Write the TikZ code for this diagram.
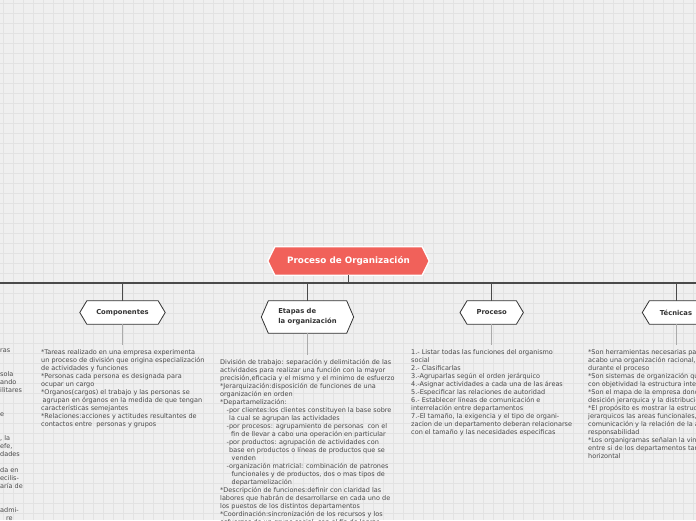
\documentclass[tikz,border=0pt]{standalone}
\usepackage{fontspec}
\setmainfont{DejaVu Sans}
\definecolor{bgc}{HTML}{EFEFEF}
\definecolor{gridc}{HTML}{E2E2E2}
\definecolor{mainc}{HTML}{F1615A}
\definecolor{linec}{HTML}{4A4A4A}
\definecolor{subc}{HTML}{ABABAB}
\definecolor{txtc}{HTML}{4A4A4A}
\definecolor{labc}{HTML}{333333}
\pgfdeclarelayer{paper}
\pgfdeclarelayer{back}
\pgfsetlayers{paper,back,main}
\newcommand\hexof[2]{%
  \path[#2] (#1.west) -- ([xshift=7pt]#1.north west) -- ([xshift=-7pt]#1.north east)
    -- (#1.east) -- ([xshift=-7pt]#1.south east) -- ([xshift=7pt]#1.south west) -- cycle;}
\tikzset{
  mainbox/.style={minimum width=161pt, minimum height=28pt, inner sep=0pt,
    font=\fontsize{8.8}{10}\selectfont\bfseries, text=white},
  subbox/.style={minimum height=23pt, inner sep=0pt, align=left,
    font=\fontsize{6.8}{10}\selectfont\bfseries, text=labc},
  hexmain/.style={fill=mainc, draw=white, line width=1.3pt},
  hexsub/.style={fill=white, draw=labc, line width=0.8pt},
  barline/.style={draw=linec, line width=1.2pt},
  trunkline/.style={draw=linec, line width=1.6pt},
  branchline/.style={draw=linec, line width=0.9pt},
  leafline/.style={draw=subc, line width=1pt, shorten >=4pt},
  bodytext/.style={font=\fontsize{6.5}{8}\selectfont, text=txtc, align=left,
    inner sep=0pt, anchor=north west},
  gridline/.style={draw=gridc, line width=0.7pt}
}
\begin{document}
\begin{tikzpicture}[x=1pt,y=-1pt]
\useasboundingbox (0,0) rectangle (696,520);
\clip (0,0) rectangle (696,520);
\begin{pgfonlayer}{paper}
\fill[bgc] (0,0) rectangle (696,520);
\foreach \i in {0,...,69} {\draw[gridline] (3+10*\i,0) -- (3+10*\i,520);}
\foreach \j in {0,...,51} {\draw[gridline] (0,3+10*\j) -- (696,3+10*\j);}
\end{pgfonlayer}

% central topic
\node[mainbox] (main) at (348.5,261) {Proceso de Organización};

% main topics
\node[subbox, minimum width=85pt] (comp) at (122.5,312.5) {Componentes};
\node[subbox, minimum width=92pt, minimum height=32pt] (etap) at (307.5,317) {Etapas de\\la organización};
\node[subbox, minimum width=63pt] (proc) at (491.7,312.5) {Proceso};
\node[subbox, minimum width=67pt] (tecn) at (676,312.5) {Técnicas};

\begin{pgfonlayer}{back}
  \hexof{main}{hexmain}
  \hexof{comp}{hexsub}
  \hexof{etap}{hexsub}
  \hexof{proc}{hexsub}
  \hexof{tecn}{hexsub}
\end{pgfonlayer}

% connectors
\coordinate (barL) at (0,283);
\coordinate (barR) at (696,283);
\draw[barline] (barL) -- (barR);
\draw[trunkline] (main.south) -- (main.south |- barL);
\foreach \n in {comp,etap,proc,tecn} {\draw[branchline] (\n.north |- barL) -- (\n.north);}

% texts
\node[bodytext] (lefttext) at (0,349) {ras\\ \mbox{}\\ \mbox{}\\sola\\ando\\ilitares\\ \mbox{}\\ \mbox{}\\e\\ \mbox{}\\ \mbox{}\\, la\\efe,\\dades\\ \mbox{}\\da en\\ecilis-\\aría de\\ \mbox{}\\ \mbox{}\\admi-\\\hspace*{6pt}re};

\node[bodytext] (comptext) at (41,349) {*Tareas realizado en una empresa experimenta\\
un proceso de división que origina especialización\\
de actividades y funciones\\
*Personas cada persona es designada para\\
ocupar un cargo\\
*Organos(cargos) el trabajo y las personas se\\
\hspace*{1.5pt}agrupan en órganos en la medida de que tengan\\
características semejantes\\
*Relaciones:acciones y actitudes resultantes de\\
contactos entre\ \ personas y grupos};

\node[bodytext] (etaptext) at (220,359) {División de trabajo: separación y delimitación de las\\
actividades para realizar una función con la mayor\\
precisión,eficacia y el mismo y el minimo de esfuerzo\\
*Jerarquización:disposición de funciones de una\\
organización en orden\\
*Departamelización:\\
\hspace*{6.5pt}-por clientes:los clientes constituyen la base sobre\\
\hspace*{9pt}la cual se agrupan las actividades\\
\hspace*{6.5pt}-por procesos: agrupamiento de personas\ \ con el\\
\hspace*{11pt}fin de llevar a cabo una operación en particular\\
\hspace*{6.5pt}-por productos: agrupación de actividades con\\
\hspace*{9pt}base en productos o líneas de productos que se\\
\hspace*{11.5pt}venden\\
\hspace*{6.5pt}-organización matricial: combinación de patrones\\
\hspace*{11.5pt}funcionales y de productos, dos o mas tipos de\\
\hspace*{11.5pt}departamelización\\
*Descripción de funciones:definir con claridad las\\
labores que habrán de desarrollarse en cada uno de\\
los puestos de los distintos departamentos\\
*Coordinación:sincronización de los recursos y los\\
esfuerzos de un grupo social, con el fin de lograr};

\node[bodytext] (proctext) at (411,349) {1.- Listar todas las funciones del organismo\\
social\\
2.- Clasificarlas\\
3.-Agruparlas según el orden jerárquico\\
4.-Asignar actividades a cada una de las áreas\\
5.-Especificar las relaciones de autoridad\\
6.- Establecer líneas de comunicación e\\
interrelación entre departamentos\\
7.-El tamaño, la exigencia y el tipo de organi-\\
zacion de un departamento deberan relacionarse\\
con el tamaño y las necesidades especificas};

\node[bodytext] (tecntext) at (588,349) {*Son herramientas necesarias para llevar a\\
acabo una organización racional, se utilizan\\
durante el proceso\\
*Son sistemas de organización que representan\\
con objetividad la estructura interna\\
*Son el mapa de la empresa donde se ve la\\
desición jerarquica y la distribución\\
*El propósito es mostrar la estructura en niveles\\
jerarquicos las areas funcionales, los canales de\\
comunicación y la relación de la autoridad y\\
responsabilidad\\
*Los organigramas señalan la vinculación\\
entre si de los departamentos tanto vertical como\\
horizontal};

\draw[leafline] (comp.south) -- (comp.south |- comptext.north);
\draw[leafline] (etap.south) -- (etap.south |- etaptext.north);
\draw[leafline] (proc.south) -- (proc.south |- proctext.north);
\draw[leafline] (tecn.south) -- (tecn.south |- tecntext.north);
\end{tikzpicture}
\end{document}
